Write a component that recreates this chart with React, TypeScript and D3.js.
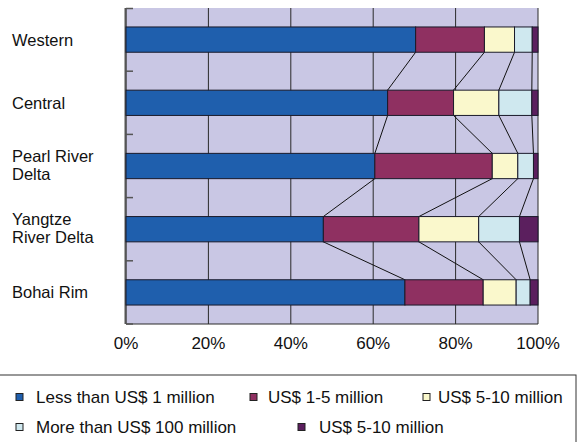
import React from "react";
import * as d3 from "d3";

const categories = ["Western", "Central", "Pearl River Delta", "Yangtze River Delta", "Bohai Rim"];
const categoryLines = [["Western"], ["Central"], ["Pearl River", "Delta"], ["Yangtze", "River Delta"], ["Bohai Rim"]];
const seriesNames = [
  "Less than US$ 1 million",
  "US$ 1-5 million",
  "US$ 5-10 million",
  "More than US$ 100 million",
  "US$ 5-10 million",
];
const lessThan1 = [70.3, 63.5, 60.4, 47.9, 67.7];
const from1to5 = [16.7, 16.0, 28.5, 23.2, 19.0];
const from5to10 = [7.3, 11.0, 6.2, 14.5, 8.0];
const moreThan100 = [4.3, 8.0, 3.8, 9.9, 3.4];
const other5to10 = [1.4, 1.5, 1.1, 4.5, 1.9];
const seriesValues = [lessThan1, from1to5, from5to10, moreThan100, other5to10];
const xTicks = [0, 20, 40, 60, 80, 100];

const colors = ["#1F5FAD", "#8F3061", "#FAF8CC", "#CFE8EF", "#5B1F5E"];

export default function App() {
  const W = 578, H = 442;
  const left = 126, right = 538, top = 8, bottom = 324;
  const x = d3.scaleLinear().domain([0, 100]).range([left, right]);
  const y = d3.scaleBand<string>().domain(categories).range([top, bottom]).paddingInner(0.6).paddingOuter(0.3);
  const yb = d3.scaleBand<string>().domain(categories).range([top, bottom]);

  const rows = categories.map((c, i) => {
    const o: any = { cat: c };
    seriesValues.forEach((s, k) => (o["s" + k] = s[i]));
    return o;
  });
  const keys = seriesValues.map((_, k) => "s" + k);
  const stack = d3.stack<any>().keys(keys)(rows);

  const seriesLines: any[] = [];
  for (let i = 0; i < categories.length - 1; i++) {
    for (let k = 0; k < keys.length - 1; k++) {
      const a = stack[k][i][1];
      const b = stack[k][i + 1][1];
      seriesLines.push({
        x1: x(a), y1: (y(categories[i]) as number) + y.bandwidth(),
        x2: x(b), y2: y(categories[i + 1]) as number,
      });
    }
  }

  const font = "'Liberation Sans', Arial, sans-serif";
  const legendPos = [
    { sx: 16, tx: 36, cy: 397 },
    { sx: 250, tx: 268, cy: 397 },
    { sx: 423, tx: 438, cy: 397 },
    { sx: 16, tx: 36, cy: 427 },
    { sx: 298, tx: 319, cy: 427 },
  ];

  return (
    <svg width={W} height={H} style={{ position: "absolute", left: 0, top: 0, background: "#fff" }} fontFamily={font}>
      <rect x={left} y={top} width={right - left} height={bottom - top} fill="#C9C7E4" />
      {xTicks.map((t) => (
        <line key={"g" + t} x1={x(t)} x2={x(t)} y1={top} y2={bottom} stroke="#2a2a2a" strokeWidth={1} />
      ))}
      <line x1={left} x2={right} y1={bottom} y2={bottom} stroke="#2a2a2a" strokeWidth={1} />
      <line x1={left - 0.5} x2={left - 0.5} y1={top} y2={bottom} stroke="#555" strokeWidth={2} />
      {categories.map((c, i) => (
        <line key={"t" + i} x1={left} x2={left + 7} y1={(yb(c) as number) + (i === 0 ? 0.5 : 0)} y2={(yb(c) as number) + (i === 0 ? 0.5 : 0)} stroke="#555" strokeWidth={1.5} />
      ))}
      <line x1={left} x2={left + 7} y1={bottom} y2={bottom} stroke="#555" strokeWidth={1.5} />
      {seriesLines.map((l, i) => (
        <line key={"sl" + i} x1={l.x1} y1={l.y1} x2={l.x2} y2={l.y2} stroke="#111" strokeWidth={1} />
      ))}
      {stack.map((s, k) =>
        s.map((d, i) => (
          <rect
            key={k + "-" + i}
            x={x(d[0])}
            y={y(categories[i])}
            width={x(d[1]) - x(d[0])}
            height={y.bandwidth()}
            fill={colors[k]}
            stroke="#1a1a2a"
            strokeWidth={1}
          />
        ))
      )}
      {categories.map((c, i) => {
        const cy = (y(c) as number) + y.bandwidth() / 2;
        const lines = categoryLines[i];
        const lh = 18;
        const start = lines.length > 1 ? cy - 4 : cy + 6;
        return (
          <text key={"c" + i} x={12} fontSize={16.5} fill="#111">
            {lines.map((ln, j) => (
              <tspan key={j} x={12} y={start + j * lh}>{ln}</tspan>
            ))}
          </text>
        );
      })}
      {xTicks.map((t) => (
        <text key={"x" + t} x={x(t)} y={349} textAnchor="middle" fontSize={17} fill="#111">{t}%</text>
      ))}
      <rect x={-1} y={375} width={577} height={80} fill="none" stroke="#333" strokeWidth={1} />
      {seriesNames.map((n, k) => (
        <g key={"l" + k}>
          <rect x={legendPos[k].sx} y={legendPos[k].cy - 3.5} width={7} height={7} fill={colors[k]} stroke="#222" strokeWidth={1} />
          <text x={legendPos[k].tx} y={legendPos[k].cy + 6} fontSize={17} fill="#111">{n}</text>
        </g>
      ))}
    </svg>
  );
}
